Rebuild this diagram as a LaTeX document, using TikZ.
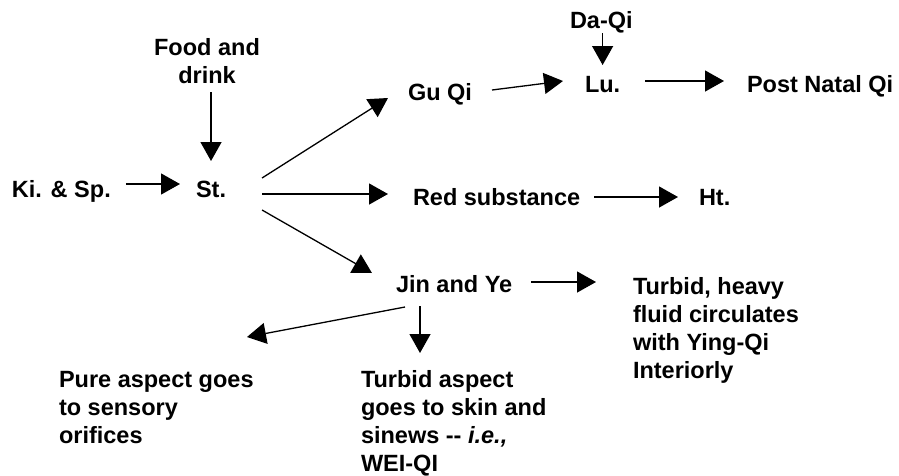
\documentclass[tikz,border=0pt]{standalone}
\usepackage{fontspec}
\setmainfont{Liberation Sans}
\usetikzlibrary{arrows.meta,calc}
\begin{document}
\begin{tikzpicture}[x=1pt,y=-1pt,
  txt/.style={inner sep=0pt,outer sep=0pt,font=\fontsize{23.5}{28}\selectfont\bfseries},
  lbl/.style={txt,anchor=base west,text height=17pt,text depth=5pt},
  multi/.style={txt,anchor=base west,align=left},
  arr/.style={line width=1.3pt,-{Triangle[length=19pt,width=21pt]}}]
\useasboundingbox (0,0) rectangle (899,475);
% nodes (multi-line nodes are placed by the baseline of their last line)
\node[txt,align=center,anchor=base] (food) at (207,83) {Food and\\drink};
\node[lbl] (ks) at (12,197) {Ki. \& Sp.};
\node[lbl] (st) at (196,197) {St.};
\node[lbl] (gu) at (408,100) {Gu Qi};
\node[lbl] (daqi) at (570,28) {Da-Qi};
\node[lbl] (lu) at (585,92) {Lu.};
\node[lbl] (post) at (747,92) {Post Natal Qi};
\node[lbl] (red) at (413,205) {Red substance};
\node[lbl] (ht) at (699,205) {Ht.};
\node[lbl] (jin) at (396,292) {Jin and Ye};
\node[multi] (turb1) at (633,378) {Turbid, heavy\\fluid circulates\\with Ying-Qi\\Interiorly};
\node[multi] (pure) at (59,443) {Pure aspect goes\\to sensory\\orifices};
\node[multi] (turb2) at (361,471) {Turbid aspect\\goes to skin and\\sinews -{}- \textit{i.e.,}\\WEI-QI};
% connectors
\draw[arr] ($(food.south -| st.north)+(0,9)$) -- ($(st.north)+(0,-19)$);
\draw[arr] ($(ks.east)+(15,-7)$) -- ($(st.west)+(-16,-7)$);
\draw[arr] ($(st.east)+(36,-13)$) -- ($(gu.west)+(-20,4)$);
\draw[arr] ($(st.east)+(36,3)$) -- ($(red.west)+(-25,-5)$);
\draw[arr] ($(st.east)+(36,19)$) -- ($(jin.west)+(-24,-13)$);
\draw[arr] ($(gu.west)+(84,-4)$) -- ($(lu.west)+(-22,-5)$);
\draw[arr] ($(daqi.south -| lu.north)$) -- ($(lu.north)+(0,-10)$);
\draw[arr] ($(lu.east)+(25,-5)$) -- ($(post.west)+(-23,-5)$);
\draw[arr] ($(red.east)+(14,-2)$) -- ($(ht.west)+(-21,-2)$);
\draw[arr] ($(jin.east)+(19,-4)$) -- ($(jin.east -| turb1.west)+(-37,-4)$);
\draw[arr] ($(jin.south west)+(9,10)$) -- ($(pure.west |- jin.south)+(188,40)$);
\draw[arr] ($(jin.south west)+(24,9)$) -- ($(turb2.west |- jin.south)+(59,56)$);
\end{tikzpicture}
\end{document}
